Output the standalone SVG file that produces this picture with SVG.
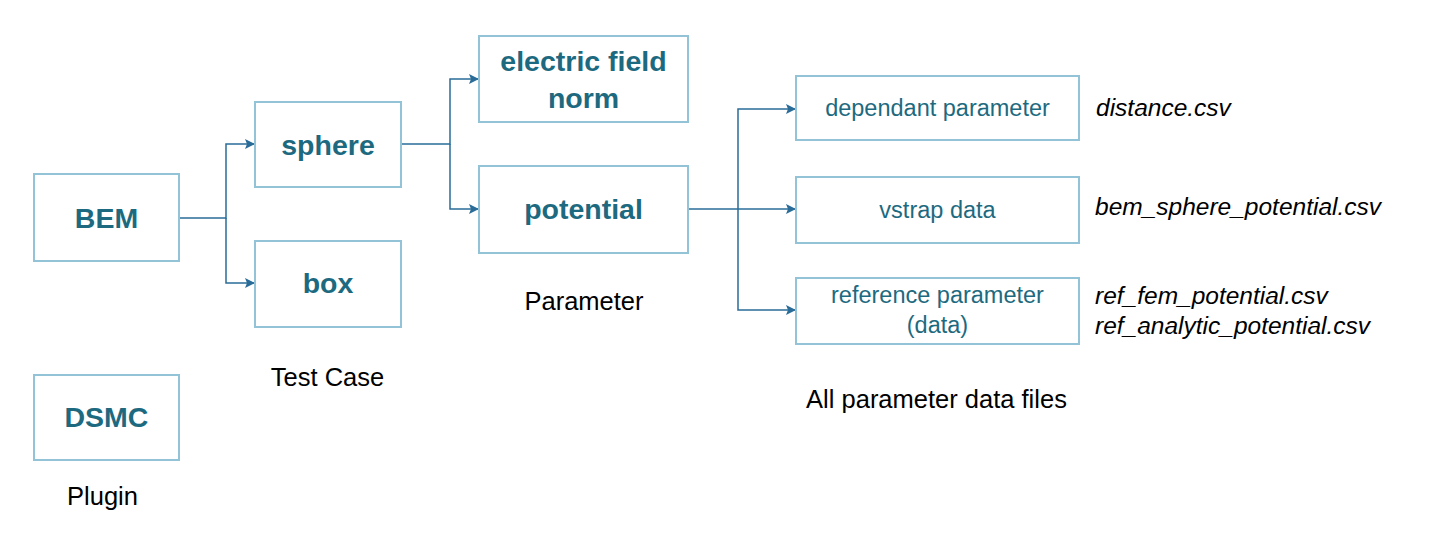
<svg xmlns="http://www.w3.org/2000/svg" width="1448" height="552" viewBox="0 0 1448 552">
<defs>
<marker id="ah" markerWidth="10" markerHeight="10" refX="9" refY="5" orient="auto" markerUnits="userSpaceOnUse">
<path d="M0,0 L10,5 L0,10 L2,5 Z" fill="#2A6C98"/>
</marker>
<style>
.box{fill:#fff;stroke:#93C3D6;stroke-width:2}
.b{font-family:"Liberation Sans",Arial,sans-serif;font-weight:bold;font-size:28.5px;fill:#1D6A80;text-anchor:middle}
.r{font-family:"Liberation Sans",Arial,sans-serif;font-size:23.5px;fill:#1D6A80;text-anchor:middle}
.lab{font-family:"Liberation Sans",Arial,sans-serif;font-size:25.5px;fill:#000;text-anchor:middle}
.f{font-family:"Liberation Sans",Arial,sans-serif;font-style:italic;font-size:24.5px;fill:#000}
.c{fill:none;stroke:#2A6C98;stroke-width:1.5}
</style>
</defs>
<rect width="1448" height="552" fill="#fff"/>
<g id="connectors">
<path class="c" d="M180,218 H226 V144 H254" marker-end="url(#ah)"/>
<path class="c" d="M226,218 V283 H254" marker-end="url(#ah)"/>
<path class="c" d="M401,144 H450 V79 H478" marker-end="url(#ah)"/>
<path class="c" d="M450,144 V209 H478" marker-end="url(#ah)"/>
<path class="c" d="M688,209 H795" marker-end="url(#ah)"/>
<path class="c" d="M738,209 V109 H795" marker-end="url(#ah)"/>
<path class="c" d="M738,209 V310 H795" marker-end="url(#ah)"/>
</g>
<g id="bem"><rect class="box" x="34" y="174" width="145" height="87"/><text class="b" x="106.5" y="228">BEM</text></g>
<g id="dsmc"><rect class="box" x="34" y="375" width="145" height="85"/><text class="b" x="106.5" y="427">DSMC</text></g>
<g id="sphere"><rect class="box" x="255" y="102" width="146" height="85"/><text class="b" x="328" y="155">sphere</text></g>
<g id="boxnode"><rect class="box" x="255" y="241" width="146" height="86"/><text class="b" x="328" y="293">box</text></g>
<g id="efield"><rect class="box" x="479" y="36" width="209" height="86"/><text class="b" x="583.5" y="71">electric field</text><text class="b" x="583.5" y="108">norm</text></g>
<g id="potential"><rect class="box" x="479" y="166" width="209" height="87"/><text class="b" x="583.5" y="219">potential</text></g>
<g id="dependant"><rect class="box" x="796" y="76" width="283" height="64"/><text class="r" x="937.5" y="116">dependant parameter</text></g>
<g id="vstrap"><rect class="box" x="796" y="177" width="283" height="66"/><text class="r" x="937.5" y="218">vstrap data</text></g>
<g id="reference"><rect class="box" x="796" y="278" width="283" height="66"/><text class="r" x="937.5" y="303">reference parameter</text><text class="r" x="937.5" y="333">(data)</text></g>
<g id="labels">
<text class="lab" x="102.5" y="505">Plugin</text>
<text class="lab" x="327.5" y="386">Test Case</text>
<text class="lab" x="584" y="310">Parameter</text>
<text class="lab" x="936.5" y="408">All parameter data files</text>
<text class="f" x="1096" y="116">distance.csv</text>
<text class="f" x="1095" y="215">bem_sphere_potential.csv</text>
<text class="f" x="1095" y="304">ref_fem_potential.csv</text>
<text class="f" x="1095" y="334">ref_analytic_potential.csv</text>
</g>
</svg>
